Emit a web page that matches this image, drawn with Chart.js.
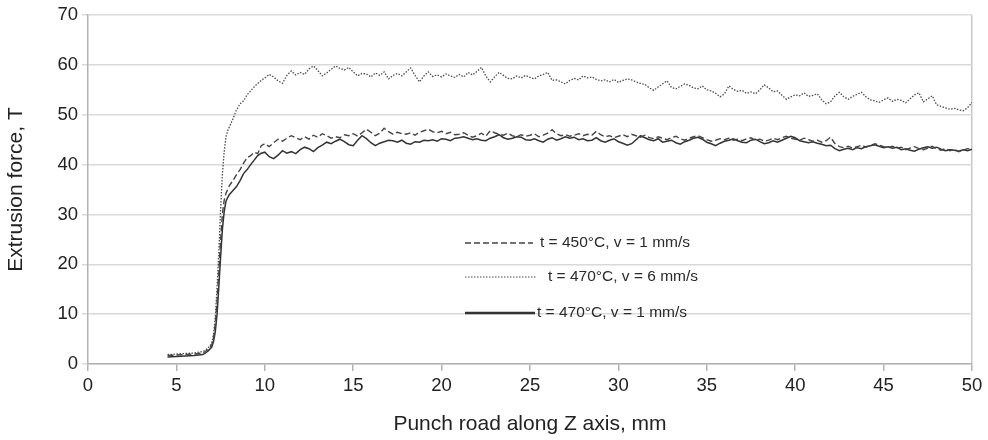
<!DOCTYPE html>
<html>
<head>
<meta charset="utf-8">
<script src="https://cdn.jsdelivr.net/npm/chart.js@4.4.1/dist/chart.umd.min.js"></script>
<style>
  html, body { margin: 0; padding: 0; background: #fff; }
  #wrap { width: 988px; height: 440px; }
</style>
</head>
<body>
<div id="wrap"><canvas id="myChart" width="988" height="440"></canvas></div>
<script>
// punch road, mm (x values shared by the three curves)
const punchRoad = [
  4.5, 5.0, 5.5, 6.0, 6.5, 6.8, 7.0, 7.1, 7.2, 7.3, 7.4, 7.5, 7.6, 7.7, 7.8, 7.9, 8.0, 8.2, 8.4, 8.6, 8.8, 9.0, 9.2, 9.4, 9.6, 9.8,
  10, 10.25, 10.5, 10.75, 11, 11.25, 11.5, 11.75, 12, 12.25, 12.5, 12.75, 13, 13.25, 13.5, 13.75,
  14, 14.25, 14.5, 14.75, 15, 15.25, 15.5, 15.75, 16, 16.25, 16.5, 16.75, 17, 17.25, 17.5, 17.75,
  18, 18.25, 18.5, 18.75, 19, 19.25, 19.5, 19.75, 20, 20.25, 20.5, 20.75, 21, 21.25, 21.5, 21.75,
  22, 22.25, 22.5, 22.75, 23, 23.25, 23.5, 23.75, 24, 24.25, 24.5, 24.75, 25, 25.25, 25.5, 25.75,
  26, 26.25, 26.5, 26.75, 27, 27.25, 27.5, 27.75, 28, 28.25, 28.5, 28.75, 29, 29.25, 29.5, 29.75,
  30, 30.25, 30.5, 30.75, 31, 31.25, 31.5, 31.75, 32, 32.25, 32.5, 32.75, 33, 33.25, 33.5, 33.75,
  34, 34.25, 34.5, 34.75, 35, 35.25, 35.5, 35.75, 36, 36.25, 36.5, 36.75, 37, 37.25, 37.5, 37.75,
  38, 38.25, 38.5, 38.75, 39, 39.25, 39.5, 39.75, 40, 40.25, 40.5, 40.75, 41, 41.25, 41.5, 41.75,
  42, 42.25, 42.5, 42.75, 43, 43.25, 43.5, 43.75, 44, 44.25, 44.5, 44.75, 45, 45.25, 45.5, 45.75,
  46, 46.25, 46.5, 46.75, 47, 47.25, 47.5, 47.75, 48, 48.25, 48.5, 48.75, 49, 49.25, 49.5, 49.75,
  50
];

// t = 450°C, v = 1 mm/s (dashed)
const force450v1 = [
  1.7, 1.8, 1.9, 2.0, 2.2, 2.9, 3.8, 5.2, 8.0, 12.5, 18.5, 25.0, 30.0, 32.8, 34.2, 35.0, 35.8, 36.8, 38.0, 39.0, 40.3, 41.4, 41.8, 42.5, 42.2, 43.8,
  44.2, 43.6, 44.4, 45.1, 44.7, 45.3, 45.8, 45.4, 45.0, 45.6, 45.1, 45.9, 45.5, 46.2, 45.8, 45.3,
  45.6, 45.4, 46.0, 45.8, 46.2, 45.7, 46.4, 47.1, 46.5, 45.8, 46.3, 47.3, 46.6, 46.1, 46.5, 46.2,
  46.1, 46.4, 45.9, 46.5, 46.8, 47.1, 46.6, 46.4, 46.7, 46.2, 46.5, 46.0, 46.1, 46.4, 45.9, 45.5,
  45.8, 46.3, 45.7, 46.8, 46.4, 46.1, 45.9, 46.3, 45.8, 45.6, 46.0, 45.7, 45.9, 46.2, 45.6, 45.9,
  46.3, 47.0, 46.2, 45.8, 46.0, 45.7, 45.9, 46.2, 45.8, 46.1, 45.9, 46.7, 46.0, 45.6, 45.8, 45.4,
  45.7, 46.0, 45.6, 46.1, 45.8, 45.5, 45.9, 45.4, 45.2, 45.6, 45.3, 45.0, 45.4, 45.7, 45.2, 44.9,
  45.3, 45.6, 45.8, 45.4, 45.0, 44.7, 44.9, 45.2, 45.0, 45.3, 44.9, 45.1, 44.8, 45.2, 45.4, 44.9,
  45.1, 44.7, 44.9, 45.3, 45.0, 45.4, 45.7, 45.3, 45.1, 44.9, 45.3, 45.0, 44.7, 44.9, 44.5, 44.8,
  45.5, 44.2, 43.6, 43.4, 43.7, 43.3, 43.6, 43.9, 43.5, 43.8, 44.2, 43.9, 43.6, 43.4, 43.7, 43.3,
  43.5, 43.0, 43.3, 43.6, 43.2, 43.0, 43.3, 43.7, 43.2, 42.9, 43.2, 42.8, 43.1, 42.6, 42.9, 43.2,
  43.0
];

// t = 470°C, v = 6 mm/s (dotted)
const force470v6 = [
  1.9, 2.0, 2.1, 2.2, 2.5, 3.2, 4.2, 6.0, 9.5, 15.5, 22.5, 31.0, 38.0, 42.5, 45.5, 46.8, 47.6, 49.2, 51.0, 52.2, 52.8, 54.0, 54.8, 55.6, 56.3, 56.9,
  57.4, 58.1, 57.6, 56.8, 56.3, 57.9, 58.8, 58.0, 58.5, 58.1, 59.2, 59.8, 58.9, 57.8, 58.4, 59.1,
  59.8, 59.3, 59.0, 59.5, 58.6, 57.8, 58.3, 58.2, 57.6, 58.4, 57.9, 58.6, 57.2, 57.9, 58.3, 57.8,
  58.6, 59.4, 57.9, 56.6, 57.8, 58.6, 57.7, 58.0, 57.6, 58.2, 57.8, 57.5, 58.1, 57.6, 58.5, 58.0,
  58.7, 59.5, 57.8, 56.6, 57.6, 58.5, 57.9, 57.3, 57.2, 57.8, 57.4, 57.9, 57.5, 57.2, 57.8, 58.1,
  58.5, 56.9, 57.0, 56.6, 56.2, 56.9, 57.3, 57.0, 57.8, 57.4, 57.6, 57.1, 56.8, 57.0, 56.6, 57.1,
  56.5, 56.9, 57.2, 57.0, 56.6, 56.3, 56.1, 55.4, 54.9, 55.6, 56.2, 56.8, 55.5, 55.2, 55.7, 56.2,
  55.9, 55.4, 55.2, 55.8, 55.0, 54.8, 54.3, 53.6, 54.2, 55.8, 55.1, 54.7, 54.9, 54.3, 54.6, 54.2,
  55.0, 56.0, 55.4, 54.6, 54.8, 53.9, 53.1, 53.6, 54.0, 53.8, 54.4, 53.7, 53.9, 54.2, 53.0, 52.2,
  52.6, 53.8, 54.5, 53.6, 53.1, 53.7, 54.1, 54.5, 53.6, 53.0, 52.8, 52.5, 53.0, 53.4, 52.7, 53.1,
  52.9, 52.4, 53.2, 54.0, 54.4, 52.6, 53.2, 53.8, 52.0, 51.7, 51.4, 51.1, 51.3, 51.0, 50.8, 51.4,
  52.5
];

// t = 470°C, v = 1 mm/s (solid)
const force470v1 = [
  1.4, 1.5, 1.6, 1.7, 1.9, 2.6, 3.4, 4.5, 6.5, 10.0, 15.5, 21.5, 27.0, 30.5, 32.6, 33.4, 34.0, 34.8, 35.6, 36.8, 38.2, 39.0, 40.0, 40.9, 41.8, 42.3,
  42.5, 41.6, 41.2, 41.9, 42.8, 42.3, 42.6, 42.2, 43.0, 43.5, 43.2, 42.6, 43.4, 43.9, 44.5, 44.2,
  44.7, 45.1, 44.6, 44.0, 43.8, 44.9, 45.8, 45.2, 44.4, 43.8, 44.3, 44.6, 44.9, 44.8, 44.5, 44.9,
  44.3, 44.1, 44.6, 44.5, 44.9, 44.8, 45.0, 44.7, 45.2, 45.1, 44.8, 45.3, 45.4, 45.6, 45.3, 45.0,
  45.2, 44.9, 44.8, 45.3, 45.6, 46.0, 45.4, 45.1, 45.3, 45.6, 45.5, 45.0, 44.9, 45.2, 44.8, 44.5,
  45.1, 45.4, 44.9, 45.2, 45.6, 45.3, 45.5, 45.0, 45.2, 44.8, 44.9, 45.4, 44.8, 44.5, 44.9, 45.2,
  44.6, 44.3, 43.9, 44.2, 45.0, 45.8, 45.4, 45.0, 44.8, 45.2, 44.5, 44.7, 44.9, 44.4, 44.1, 44.6,
  44.9, 45.3, 45.5, 45.1, 44.5, 44.2, 43.8, 44.3, 44.7, 44.9, 45.2, 44.8, 44.5, 44.4, 44.9, 45.1,
  44.6, 44.2, 44.4, 44.8, 44.5, 44.9, 45.3, 45.7, 45.4, 44.8, 44.6, 44.4, 44.6, 44.3, 44.1, 43.8,
  43.9, 43.2, 42.8, 43.1, 43.3, 43.0, 43.4, 43.2, 43.6, 43.8, 44.0, 43.7, 43.4, 43.6, 43.3, 43.5,
  43.0, 43.2, 42.9, 42.7, 43.1, 43.4, 43.6, 43.3, 43.5, 43.1, 42.8, 43.0, 42.9, 42.7, 43.0, 42.8,
  43.1
];

const seriesLabels = ["t = 450°C, v = 1 mm/s", "t = 470°C, v = 6 mm/s", "t = 470°C, v = 1 mm/s"];

function toPoints(values) {
  return values.map((v, i) => ({ x: punchRoad[i], y: v }));
}

const data = {
  datasets: [
    {
      label: seriesLabels[0],
      data: toPoints(force450v1),
      borderColor: "#444444",
      borderWidth: 1.4,
      borderDash: [6, 3],
    },
    {
      label: seriesLabels[1],
      data: toPoints(force470v6),
      borderColor: "#4d4d4d",
      borderWidth: 1.3,
      borderDash: [1.5, 1.5],
    },
    {
      label: seriesLabels[2],
      data: toPoints(force470v1),
      borderColor: "#333333",
      borderWidth: 1.5,
      borderDash: [],
    }
  ],
};

/* Légende dessinée dans la zone du graphique */
const legendLayout = [
  { x1: 465, x2: 533, textX: 540, y: 243, width: 1.3 },
  { x1: 465, x2: 537, textX: 548, y: 277, width: 1.2 },
  { x1: 465, x2: 535, textX: 537, y: 313, width: 2.6 },
];

const innerLegend = {
  id: "innerLegend",
  afterDraw(chart) {
    const ctx = chart.ctx;
    ctx.save();
    chart.data.datasets.forEach((ds, i) => {
      const pos = legendLayout[i];
      ctx.beginPath();
      ctx.setLineDash(ds.borderDash);
      ctx.strokeStyle = ds.borderColor;
      ctx.lineWidth = pos.width;
      ctx.moveTo(pos.x1, pos.y);
      ctx.lineTo(pos.x2, pos.y);
      ctx.stroke();
      ctx.setLineDash([]);
      ctx.fillStyle = "#2a2a2a";
      ctx.font = "15.5px 'Liberation Sans', Arial, sans-serif";
      ctx.textBaseline = "middle";
      ctx.fillText(ds.label, pos.textX, pos.y);
    });
    ctx.restore();
  },
};

const tickFont = { family: "'Liberation Sans', Arial, sans-serif", size: 18.5 };
const titleFont = { family: "'Liberation Sans', Arial, sans-serif", size: 21 };

const config = {
  type: "line",
  data: data,
  options: {
    responsive: false,
    animation: false,
    elements: {
      point: { radius: 0 },
      line: { tension: 0, fill: false },
    },
    layout: {
      padding: { top: 14, right: 16, left: 0, bottom: 0 },
    },
    plugins: {
      legend: false,
      tooltip: { enabled: false },
    },
    scales: {
      x: {
        type: "linear",
        min: 0,
        max: 50,
        ticks: { stepSize: 5, color: "#222", font: tickFont, padding: 4, maxRotation: 0 },
        grid: {
          color: (c) => (c.tick && c.tick.value === 50 ? "#c8c8c8" : "rgba(0,0,0,0)"),
          tickColor: "#b3b3b3",
          tickLength: 7,
          lineWidth: 1.5,
        },
        border: { color: "#b3b3b3", width: 1.5 },
        title: {
          display: true,
          text: "Punch road along Z axis, mm",
          color: "#222",
          font: titleFont,
          padding: { top: 10, bottom: 3 },
        },
        afterFit(scale) { scale.height = 76; },
      },
      y: {
        min: 0,
        max: 70,
        ticks: { stepSize: 10, color: "#222", font: tickFont, padding: 4 },
        grid: { color: "#d9d9d9", tickColor: "#d9d9d9", tickLength: 6, lineWidth: 1.5 },
        border: { color: "#b3b3b3", width: 1.5 },
        title: {
          display: true,
          text: "Extrusion force, T",
          color: "#222",
          font: titleFont,
          padding: { top: 4, bottom: 4 },
        },
        afterFit(scale) { scale.width = 88; },
      },
    },
  },
  plugins: [innerLegend],
};

const context = document.getElementById("myChart").getContext("2d");
const chart = new Chart(context, config);
</script>
</body>
</html>
